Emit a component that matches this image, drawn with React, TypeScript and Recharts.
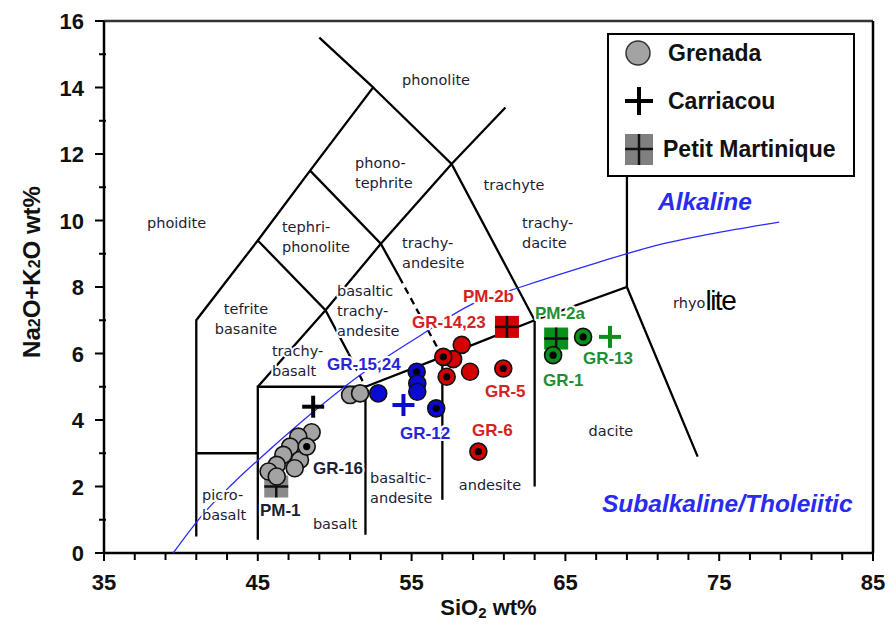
import React from 'react';
import { ScatterChart, Scatter, XAxis, YAxis, ReferenceLine, Legend } from 'recharts';

// axis ticks
const xTicks = [35, 37, 39, 41, 43, 45, 47, 49, 51, 53, 55, 57, 59, 61, 63, 65, 67, 69, 71, 73, 75, 77, 79, 81, 83, 85];
const yTicks = [0, 1, 2, 3, 4, 5, 6, 7, 8, 9, 10, 11, 12, 13, 14, 15, 16];
const xLabelTicks = [35, 45, 55, 65, 75, 85];
const yLabelTicks = [0, 2, 4, 6, 8, 10, 12, 14, 16];

// TAS field boundaries (SiO2, Na2O+K2O)
const solidLines: [number, number][][] = [
  [[41, 0.5], [41, 7], [45, 9.4], [48.4, 11.5], [52.5, 14], [49, 15.5]],
  [[41, 3], [45, 3]],
  [[45, 0.4], [45, 5], [52, 5], [52, 0.55]],
  [[45, 5], [49.4, 7.3], [53, 9.3], [57.6, 11.7], [61.1, 13.4]],
  [[45, 9.4], [49.4, 7.3], [50.9, 6.0]],
  [[48.4, 11.5], [53, 9.3], [54.2, 8.3]],
  [[52.5, 14], [57.6, 11.7], [63, 7]],
  [[52, 5], [57, 5.9], [63, 7], [69, 8], [73.6, 2.9]],
  [[57, 5.9], [57, 1.6]],
  [[63, 7], [63, 2.0]],
  [[69, 8], [69, 12]],
];
const dashedLines: [number, number][][] = [
  [[50.9, 6.0], [52, 5]],
  [[54.2, 8.3], [57, 5.9]],
];

// Irvine & Baragar alkaline / subalkaline divide
const alkalineCurve = [
  { x: 39.5, y: 0 }, { x: 41.5, y: 1.2 }, { x: 43.4, y: 2.1 }, { x: 46, y: 3.2 },
  { x: 48.5, y: 4.2 }, { x: 51.5, y: 5.3 }, { x: 55.6, y: 6.55 }, { x: 59, y: 7.5 },
  { x: 62.1, y: 8.0 }, { x: 67.2, y: 8.75 }, { x: 70.5, y: 9.2 }, { x: 74.5, y: 9.6 },
  { x: 78.9, y: 9.95 },
];

// Grenada samples
const grenadaGrey = [
  { x: 48.5, y: 3.63 }, { x: 47.63, y: 3.5 }, { x: 47.1, y: 3.2 }, { x: 46.66, y: 2.95 },
  { x: 47.74, y: 2.8 }, { x: 46.23, y: 2.65 }, { x: 47.4, y: 2.55 }, { x: 45.7, y: 2.45 },
  { x: 46.23, y: 2.3 }, { x: 48.18, y: 3.2, dot: true }, { x: 51.0, y: 4.75 }, { x: 51.65, y: 4.8 },
];
const grenadaBlue = [
  { x: 52.83, y: 4.8 }, { x: 55.33, y: 5.45, dot: true }, { x: 55.37, y: 5.1 },
  { x: 55.37, y: 4.85 }, { x: 56.6, y: 4.35, dot: true },
];
const grenadaRed = [
  { x: 58.26, y: 6.26 }, { x: 57.7, y: 5.83 }, { x: 57.06, y: 5.9, dot: true }, { x: 58.8, y: 5.45 },
  { x: 57.28, y: 5.3, dot: true }, { x: 60.96, y: 5.55, dot: true }, { x: 59.34, y: 3.05, dot: true },
];
const grenadaGreen = [{ x: 64.2, y: 5.95, dot: true }, { x: 66.15, y: 6.5, dot: true }];

// Carriacou and Petit Martinique samples
const carriacou = [
  { x: 48.6, y: 4.4, group: 'black' }, { x: 54.47, y: 4.45, group: 'blue' }, { x: 67.9, y: 6.5, group: 'green' },
];
const petitMartinique = [
  { x: 46.2, y: 2.0, group: 'grey' }, { x: 61.2, y: 6.8, group: 'red' }, { x: 64.4, y: 6.45, group: 'green' },
];

const fieldLabels = [
  { x: 37.8, y: 9.92, text: ['phoidite'] },
  { x: 44.23, y: 7.34, text: ['tefrite', 'basanite'], align: 'middle' },
  { x: 46.57, y: 9.8, text: ['tephri-', 'phonolite'] },
  { x: 51.32, y: 11.73, text: ['phono-', 'tephrite'] },
  { x: 56.59, y: 14.23, text: ['phonolite'], align: 'middle' },
  { x: 61.66, y: 11.07, text: ['trachyte'], align: 'middle' },
  { x: 62.18, y: 9.92, text: ['trachy-', 'dacite'] },
  { x: 54.38, y: 9.32, text: ['trachy-', 'andesite'] },
  { x: 50.15, y: 7.88, text: ['basaltic', 'trachy-', 'andesite'] },
  { x: 45.92, y: 6.08, text: ['trachy-', 'basalt'] },
  { x: 41.37, y: 1.74, text: ['picro-', 'basalt'] },
  { x: 50.02, y: 0.87, text: ['basalt'], align: 'middle' },
  { x: 52.3, y: 2.26, text: ['basaltic-', 'andesite'] },
  { x: 60.1, y: 2.05, text: ['andesite'], align: 'middle' },
  { x: 67.96, y: 3.67, text: ['dacite'], align: 'middle' },
];
const rhyoliteLabel = [{ x: 72.0, y: 7.52, text: ['rhyo', 'lite'] }];

const sampleLabels = [
  { x: 48.59, y: 2.56, text: ['GR-16'], group: 'dark' },
  { x: 45.14, y: 1.29, text: ['PM-1'], group: 'dark' },
  { x: 49.5, y: 5.68, text: ['GR-15,24'], group: 'blue' },
  { x: 55.03, y: 6.95, text: ['GR-14,23'], group: 'red' },
  { x: 58.34, y: 7.73, text: ['PM-2b'], group: 'red' },
  { x: 54.25, y: 3.61, text: ['GR-12'], group: 'blue' },
  { x: 59.77, y: 4.87, text: ['GR-5'], group: 'red' },
  { x: 58.93, y: 3.7, text: ['GR-6'], group: 'red' },
  { x: 63.02, y: 7.22, text: ['PM-2a'], group: 'green' },
  { x: 63.54, y: 5.2, text: ['GR-1'], group: 'green' },
  { x: 66.14, y: 5.86, text: ['GR-13'], group: 'green' },
];
const seriesLabels = [
  { x: 71.02, y: 10.59, text: ['Alkaline'] },
  { x: 67.38, y: 1.5, text: ['Subalkaline/Tholeiitic'] },
];

const legendItems = [
  { name: 'Grenada', marker: 'circle' },
  { name: 'Carriacou', marker: 'cross' },
  { name: 'Petit Martinique', marker: 'square' },
];

const markerColors: { [k: string]: string } = {
  grey: '#a3a3a3',
  blue: '#0a0ad2',
  red: '#d40000',
  green: '#0a8f1a',
  black: '#000',
};
const labelColors: { [k: string]: string } = {
  dark: '#1d1d35',
  blue: '#2626d8',
  red: '#d42222',
  green: '#1f8f35',
};

const SANS = '"Liberation Sans", Arial, sans-serif';
const toPts = (seg: [number, number][]) => seg.map(([x, y]) => ({ x, y }));
const noShape = () => <g />;

const circleShape = (fill: string) => (p: any) => (
  <g>
    <circle cx={p.cx} cy={p.cy} r={8.5} fill={fill} stroke="#111" strokeWidth={1.6} />
    {p.payload.dot && <circle cx={p.cx} cy={p.cy} r={3.6} fill="#000" />}
  </g>
);

const crossShape = (p: any) => {
  const c = markerColors[p.payload.group];
  return (
    <g stroke={c} strokeWidth={4}>
      <line x1={p.cx - 11} x2={p.cx + 11} y1={p.cy} y2={p.cy} />
      <line x1={p.cx} x2={p.cx} y1={p.cy - 11} y2={p.cy + 11} />
    </g>
  );
};

const squareShape = (p: any) => {
  const c = p.payload.group === 'grey' ? '#8a8a8a' : markerColors[p.payload.group];
  return (
    <g>
      <rect x={p.cx - 12} y={p.cy - 11} width={24} height={22} fill={c} />
      <g stroke="#111" strokeWidth={2.5}>
        <line x1={p.cx - 12} x2={p.cx + 12} y1={p.cy} y2={p.cy} />
        <line x1={p.cx} x2={p.cx} y1={p.cy - 11} y2={p.cy + 11} />
      </g>
    </g>
  );
};

const textShape = (style: any, gap: number, colorOf?: (d: any) => string) => (p: any) => {
  const d = p.payload;
  return (
    <text
      x={p.cx}
      y={p.cy}
      textAnchor={d.align || 'start'}
      dominantBaseline="central"
      fill={colorOf ? colorOf(d) : style.fill}
      stroke="#fff"
      strokeWidth={4}
      strokeLinejoin="round"
      style={{ paintOrder: 'stroke', ...style }}
    >
      {d.text.map((t: string, i: number) => (
        <tspan key={i} x={p.cx} dy={i === 0 ? 0 : gap}>{t}</tspan>
      ))}
    </text>
  );
};

const rhyoliteShape = (p: any) => {
  const d = p.payload;
  return (
    <text x={p.cx} y={p.cy} dominantBaseline="central" fill="#1d1d35" style={{ fontFamily: '"DejaVu Sans", sans-serif', fontSize: 14.5 }}>
      {d.text[0]}
      <tspan dy={-3} fill="#000" style={{ fontFamily: '"Liberation Sans Narrow", "Liberation Sans", sans-serif', fontSize: 28, letterSpacing: -1.5 }}>
        {d.text[1]}
      </tspan>
    </text>
  );
};

const XTick = (p: any) => {
  const v = p.payload.value;
  const major = xLabelTicks.includes(v);
  return (
    <g>
      <line x1={p.x} x2={p.x} y1={p.y} y2={p.y + (major ? 8 : 7)} stroke="#000" strokeWidth={2} />
      {major && (
        <text x={p.x} y={p.y + 37} textAnchor="middle" fill="#111" style={{ fontFamily: SANS, fontWeight: 'bold', fontSize: 22 }}>
          {v}
        </text>
      )}
    </g>
  );
};

const YTick = (p: any) => {
  const v = p.payload.value;
  const major = yLabelTicks.includes(v);
  return (
    <g>
      <line x1={p.x - (major ? 9 : 5)} x2={p.x + (major ? 0 : 2)} y1={p.y} y2={p.y} stroke="#000" strokeWidth={2} />
      {major && (
        <text x={p.x - 20} y={p.y + 8} textAnchor="end" fill="#111" style={{ fontFamily: SANS, fontWeight: 'bold', fontSize: 22 }}>
          {v}
        </text>
      )}
    </g>
  );
};

const XTitle = (p: any) => {
  const vb = p.viewBox;
  return (
    <text x={vb.x + vb.width / 2} y={vb.y + 62} textAnchor="middle" fill="#111" style={{ fontFamily: SANS, fontWeight: 'bold', fontSize: 22 }}>
      SiO<tspan fontSize={15} dy={3}>2</tspan><tspan dy={-3}> wt%</tspan>
    </text>
  );
};

const YTitle = (p: any) => {
  const vb = p.viewBox;
  const cx = vb.x - 13;
  const cy = vb.y + vb.height / 2 - 15;
  return (
    <text x={cx} y={cy} textAnchor="middle" dominantBaseline="central" transform={`rotate(-90, ${cx}, ${cy})`} fill="#111" style={{ fontFamily: SANS, fontWeight: 'bold', fontSize: 24 }}>
      Na<tspan fontSize={16} dy={3}>2</tspan><tspan dy={-3}>O+K</tspan><tspan fontSize={16} dy={3}>2</tspan><tspan dy={-3}>O wt%</tspan>
    </text>
  );
};

const LegendBox = () => (
  <svg width={248} height={144} style={{ display: 'block' }}>
    <rect x={1} y={1} width={246} height={142} fill="#fff" stroke="#000" strokeWidth={2} />
    {legendItems.map((it, i) => {
      const cy = [20, 68, 116][i];
      return (
        <g key={it.name}>
          {it.marker === 'circle' && <circle cx={31} cy={cy} r={12} fill="#a3a3a3" stroke="#333" strokeWidth={1.5} />}
          {it.marker === 'cross' && (
            <g stroke="#000" strokeWidth={4}>
              <line x1={18} x2={46} y1={cy} y2={cy} />
              <line x1={32} x2={32} y1={cy - 14} y2={cy + 14} />
            </g>
          )}
          {it.marker === 'square' && (
            <g>
              <rect x={18} y={cy - 15} width={28} height={31} fill="#808080" />
              <g stroke="#111" strokeWidth={2.5}>
                <line x1={18} x2={46} y1={cy} y2={cy} />
                <line x1={32} x2={32} y1={cy - 15} y2={cy + 16} />
              </g>
            </g>
          )}
          <text x={it.marker === 'square' ? 56 : 61} y={cy + 8} fill="#111" style={{ fontFamily: SANS, fontWeight: 'bold', fontSize: 23 }}>
            {it.name}
          </text>
        </g>
      );
    })}
  </svg>
);

export default function App() {
  return (
    <div style={{ position: 'absolute', left: 0, top: 0, width: 896, height: 630, background: '#fff' }}>
      <ScatterChart width={896} height={630} margin={{ top: 21, right: 23, left: 44, bottom: 17 }}>
        <XAxis
          type="number"
          dataKey="x"
          domain={[35, 85]}
          ticks={xTicks}
          interval={0}
          height={60}
          tickSize={0}
          tickMargin={0}
          tickLine={false}
          tick={<XTick />}
          axisLine={{ stroke: '#000', strokeWidth: 2.5 }}
          label={{ content: <XTitle /> }}
        />
        <YAxis
          type="number"
          dataKey="y"
          domain={[0, 16]}
          ticks={yTicks}
          interval={0}
          width={60}
          tickSize={0}
          tickMargin={0}
          tickLine={false}
          tick={<YTick />}
          axisLine={{ stroke: '#000', strokeWidth: 2.5 }}
          label={{ content: <YTitle /> }}
        />
        <ReferenceLine y={16} stroke="#333" strokeWidth={2.5} />
        <ReferenceLine x={85} stroke="#000" strokeWidth={2.5} />

        {solidLines.map((seg, i) => (
          <Scatter key={`sl${i}`} data={toPts(seg)} shape={noShape} line={{ stroke: '#000', strokeWidth: 2.3 }} isAnimationActive={false} />
        ))}
        {dashedLines.map((seg, i) => (
          <Scatter key={`dl${i}`} data={toPts(seg)} shape={noShape} line={{ stroke: '#000', strokeWidth: 2.3, strokeDasharray: '7 5' }} isAnimationActive={false} />
        ))}
        <Scatter data={alkalineCurve} shape={noShape} line={{ stroke: '#2a2aff', strokeWidth: 1.3 }} lineJointType="monotoneX" isAnimationActive={false} />

        <Scatter data={fieldLabels} shape={textShape({ fill: '#1d1d35', fontFamily: '"DejaVu Sans", sans-serif', fontSize: 14.5 }, 20)} isAnimationActive={false} />
        <Scatter data={rhyoliteLabel} shape={rhyoliteShape} isAnimationActive={false} />

        <Scatter data={petitMartinique} shape={squareShape} isAnimationActive={false} />
        <Scatter data={grenadaGrey} shape={circleShape(markerColors.grey)} isAnimationActive={false} />
        <Scatter data={grenadaBlue} shape={circleShape(markerColors.blue)} isAnimationActive={false} />
        <Scatter data={grenadaRed} shape={circleShape(markerColors.red)} isAnimationActive={false} />
        <Scatter data={grenadaGreen} shape={circleShape(markerColors.green)} isAnimationActive={false} />
        <Scatter data={carriacou} shape={crossShape} isAnimationActive={false} />

        <Scatter
          data={sampleLabels}
          shape={textShape({ fontFamily: SANS, fontWeight: 'bold', fontSize: 17 }, 20, (d) => labelColors[d.group])}
          isAnimationActive={false}
        />
        <Scatter
          data={seriesLabels}
          shape={textShape({ fill: '#2a2af0', fontFamily: SANS, fontWeight: 'bold', fontStyle: 'italic', fontSize: 24.5 }, 20)}
          isAnimationActive={false}
        />

        <Legend
          layout="vertical"
          align="center"
          verticalAlign="middle"
          content={<LegendBox />}
          wrapperStyle={{ left: 607, top: 33, width: 248, height: 144 }}
        />
      </ScatterChart>
    </div>
  );
}
